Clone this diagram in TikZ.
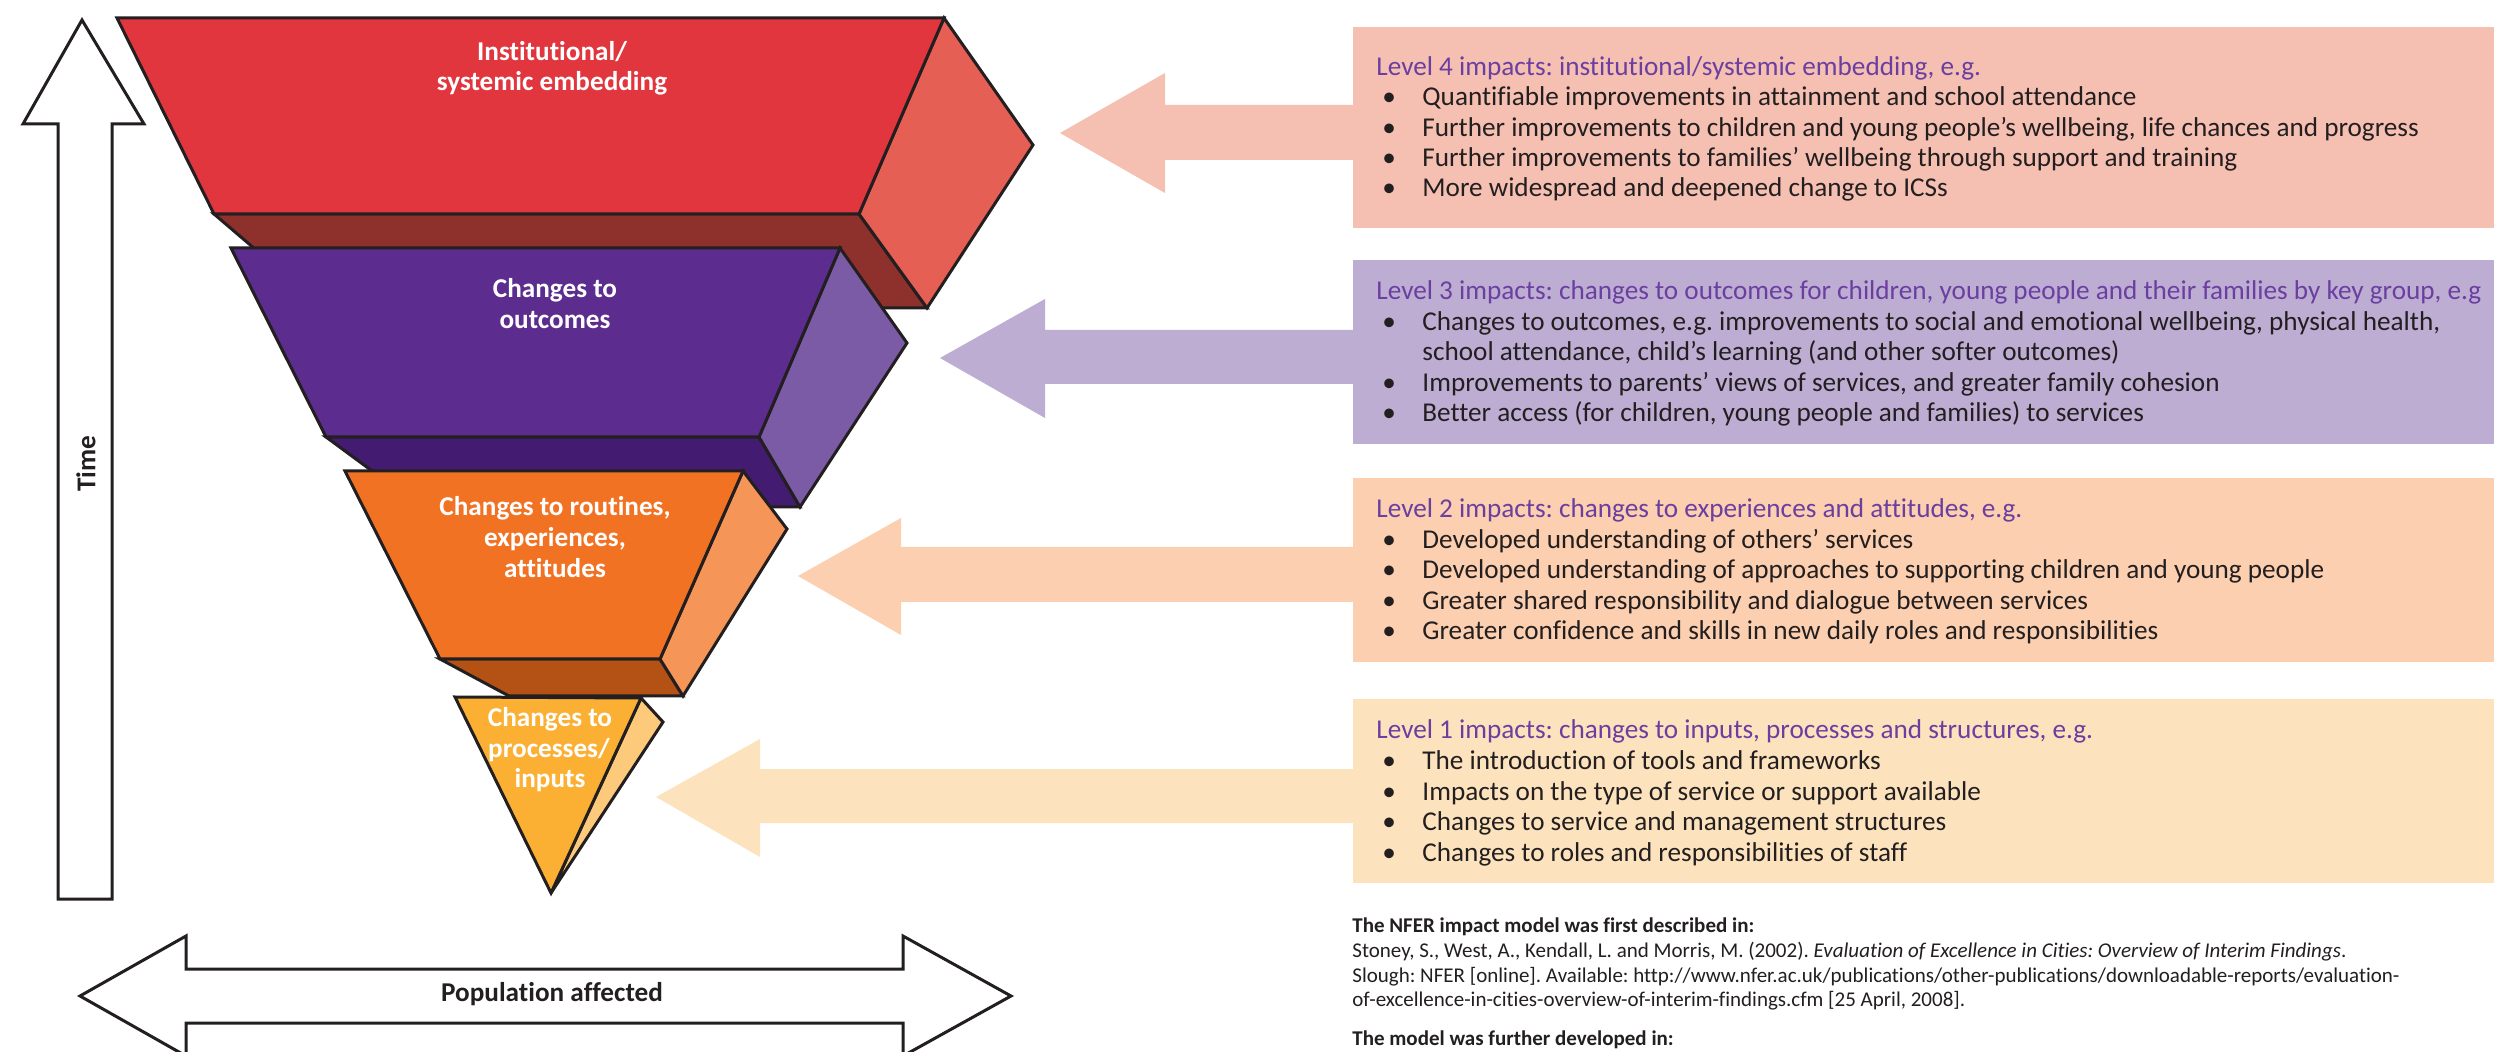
\documentclass[tikz,border=0pt]{standalone}
\usepackage{fontspec}
\setmainfont{Carlito}[Ligatures=NoCommon]
\frenchspacing
\definecolor{redF}{HTML}{E2363E}
\definecolor{redS}{HTML}{E55F55}
\definecolor{redD}{HTML}{8E312D}
\definecolor{purF}{HTML}{5C2D8F}
\definecolor{purS}{HTML}{7C5BA6}
\definecolor{purD}{HTML}{431B70}
\definecolor{oraF}{HTML}{F27224}
\definecolor{oraS}{HTML}{F69558}
\definecolor{oraD}{HTML}{B35214}
\definecolor{yelF}{HTML}{FBB034}
\definecolor{yelS}{HTML}{FDCA7B}
\definecolor{boxA}{HTML}{F5C0B2}
\definecolor{boxB}{HTML}{BEADD3}
\definecolor{boxC}{HTML}{FBCFAF}
\definecolor{boxD}{HTML}{FDE3BD}
\definecolor{headpurple}{HTML}{6A3FA0}
\definecolor{ink}{HTML}{231F20}
\newcommand{\itemfont}{\fontsize{13.6}{15}\selectfont}
\newcommand{\labelfont}{\fontsize{13.6}{15}\selectfont\bfseries}
\newcommand{\reffont}{\fontsize{10.5}{12}\selectfont}
\newcommand{\impline}[3]{%
  \node[itm] (#1b) at (1382,#2) {\textbullet};
  \node[itm] (#1) at (1422,#2) {#3};}
\begin{document}
\begin{tikzpicture}[x=0.5pt,y=-0.5pt,
  face/.style={draw=ink, line width=1.5pt, line join=miter},
  lbl/.style={text=white, font=\labelfont, anchor=base, inner sep=0},
  head/.style={anchor=base west, inner sep=0, text=headpurple, font=\itemfont},
  itm/.style={anchor=base west, inner sep=0, text=ink, font=\itemfont},
  refl/.style={anchor=base west, inner sep=0, text=ink, font=\reffont},
  bigarrow/.style={draw=ink, line width=1.5pt, fill=white, line join=miter}]
\useasboundingbox (0,0) rectangle (2494,1052);
\fill[white] (0,0) rectangle (2494,1052);

% ---- level boxes and pointer arrows
\fill[boxA] (1353,27) rectangle (2494,228);
\fill[boxA] (1060,133) -- (1165,73) -- (1165,105) -- (1360,105) -- (1360,160) -- (1165,160) -- (1165,193) -- cycle;
\fill[boxB] (1353,260) rectangle (2494,444);
\fill[boxB] (940,358) -- (1045,299) -- (1045,330) -- (1360,330) -- (1360,384) -- (1045,384) -- (1045,418) -- cycle;
\fill[boxC] (1353,478) rectangle (2494,662);
\fill[boxC] (798,576) -- (901,518) -- (901,547) -- (1360,547) -- (1360,602) -- (901,602) -- (901,635) -- cycle;
\fill[boxD] (1353,699) rectangle (2494,883);
\fill[boxD] (656,797) -- (760,739) -- (760,769) -- (1360,769) -- (1360,823) -- (760,823) -- (760,857) -- cycle;

% ---- funnel: red level
\filldraw[face, fill=redD] (214,214) -- (859,214) -- (927,308) -- (324,308) -- cycle;
\filldraw[face, fill=redS] (944,18) -- (1033,145) -- (927,308) -- (859,214) -- cycle;
\filldraw[face, fill=redF] (117,18) -- (944,18) -- (859,214) -- (214,214) -- cycle;
% purple level
\filldraw[face, fill=purD] (326,437) -- (759,437) -- (800,507) -- (421,507) -- cycle;
\filldraw[face, fill=purS] (840,248) -- (907,343) -- (800,507) -- (759,437) -- cycle;
\filldraw[face, fill=purF] (231,248) -- (840,248) -- (759,437) -- (326,437) -- cycle;
% orange level
\filldraw[face, fill=oraD] (440,659) -- (660,659) -- (683,696) -- (509,696) -- cycle;
\filldraw[face, fill=oraS] (743,471) -- (787,529) -- (683,696) -- (660,659) -- cycle;
\filldraw[face, fill=oraF] (345,471) -- (743,471) -- (660,659) -- (440,659) -- cycle;
% yellow level
\filldraw[face, fill=yelS] (641,698) -- (663,722) -- (551,893) -- cycle;
\filldraw[face, fill=yelF] (455,697) -- (641,698) -- (551,893) -- cycle;

% funnel labels
\node[lbl] (l4a) at (552,61) {Institutional/};
\node[lbl] (l4b) at (552,91) {systemic embedding};
\node[lbl] (l3a) at (555,298) {Changes to};
\node[lbl] (l3b) at (555,329) {outcomes};
\node[lbl] (l2a) at (555,516) {Changes to routines,};
\node[lbl] (l2b) at (555,547) {experiences,};
\node[lbl] (l2c) at (555,578) {attitudes};
\node[lbl] (l1a) at (550,726) {Changes to};
\node[lbl] (l1b) at (549,757) {processes/};
\node[lbl] (l1c) at (550,787) {inputs};

% ---- time arrow
\draw[bigarrow] (82,20) -- (144,124) -- (112,124) -- (112,899) -- (58,899) -- (58,124) -- (23,124) -- cycle;
\node[rotate=90, font=\fontsize{13.6}{15}\selectfont\bfseries, text=ink, inner sep=0] (time) at (86,464) {Time};

% ---- population arrow
\draw[bigarrow] (80,996) -- (186,936) -- (186,969) -- (903,969) -- (903,936) -- (1011,996) -- (903,1056) -- (903,1023) -- (186,1023) -- (186,1056) -- cycle;
\node[font=\fontsize{13.6}{15}\selectfont\bfseries, text=ink, inner sep=0] (pop) at (552,994) {Population affected};

% ---- level 4 text
\node[head] (h4) at (1376,76) {Level 4 impacts: institutional/systemic embedding, e.g.};
\impline{i41}{106}{Quantifiable improvements in attainment and school attendance}
\impline{i42}{136.5}{Further improvements to children and young people’s wellbeing, life chances and progress}
\impline{i43}{167}{Further improvements to families’ wellbeing through support and training}
\impline{i44}{197}{More widespread and deepened change to ICSs}

% ---- level 3 text
\node[head] (h3) at (1376,300) {Level 3 impacts: changes to outcomes for children, young people and their families by key group, e.g};
\impline{i31}{330.5}{Changes to outcomes, e.g. improvements to social and emotional wellbeing, physical health,}
\node[itm] (i31c) at (1422,361) {school attendance, child’s learning (and other softer outcomes)};
\impline{i32}{391.5}{Improvements to parents’ views of services, and greater family cohesion}
\impline{i33}{422}{Better access (for children, young people and families) to services}

% ---- level 2 text
\node[head] (h2) at (1376,518) {Level 2 impacts: changes to experiences and attitudes, e.g.};
\impline{i21}{548.5}{Developed understanding of others’ services}
\impline{i22}{579}{Developed understanding of approaches to supporting children and young people}
\impline{i23}{609.5}{Greater shared responsibility and dialogue between services}
\impline{i24}{640}{Greater confidence and skills in new daily roles and responsibilities}

% ---- level 1 text
\node[head] (h1) at (1376,739) {Level 1 impacts: changes to inputs, processes and structures, e.g.};
\impline{i11}{769.5}{The introduction of tools and frameworks}
\impline{i12}{800}{Impacts on the type of service or support available}
\impline{i13}{830.5}{Changes to service and management structures}
\impline{i14}{861}{Changes to roles and responsibilities of staff}

% ---- references
\node[refl, font=\reffont\bfseries] (r1) at (1352,932) {The NFER impact model was first described in:};
\node[refl] (r2) at (1352,957) {Stoney, S., West, A., Kendall, L. and Morris, M. (2002). \textit{Evaluation of Excellence in Cities: Overview of Interim Findings}.};
\node[refl] (r3) at (1352,982) {Slough: NFER [online]. Available: http://www.nfer.ac.uk/publications/other-publications/downloadable-reports/evaluation-};
\node[refl] (r4) at (1352,1006) {of-excellence-in-cities-overview-of-interim-findings.cfm [25 April, 2008].};
\node[refl, font=\reffont\bfseries] (r5) at (1352,1045) {The model was further developed in:};
\end{tikzpicture}
\end{document}
